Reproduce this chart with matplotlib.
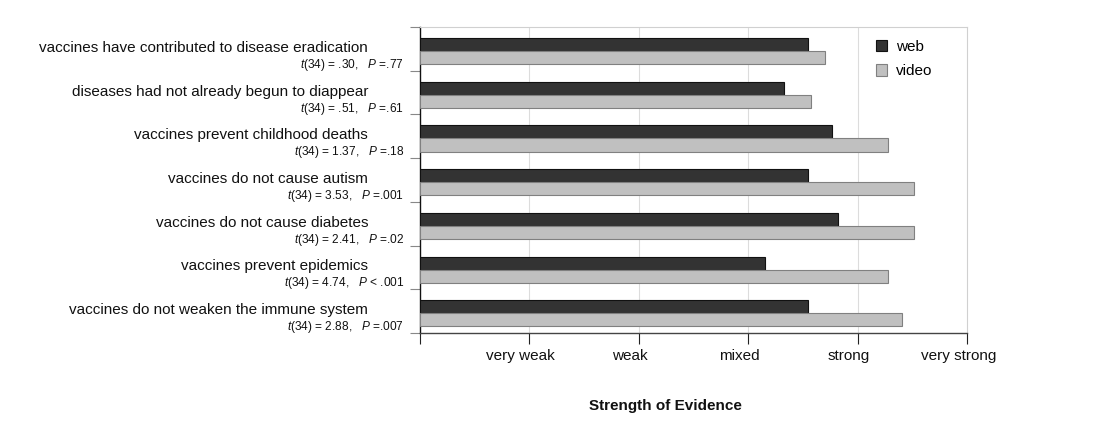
import matplotlib
matplotlib.use("Agg")
import matplotlib.pyplot as plt
from matplotlib.patches import Patch
import numpy as np

categories = [
    "vaccines have contributed to disease eradication",
    "diseases had not already begun to diappear",
    "vaccines prevent childhood deaths",
    "vaccines do not cause autism",
    "vaccines do not cause diabetes",
    "vaccines prevent epidemics",
    "vaccines do not weaken the immune system",
]
t_values = [".30", ".51", "1.37", "3.53", "2.41", "4.74", "2.88"]
p_values = ["=.77", "=.61", "=.18", "=.001", "=.02", "< .001", "=.007"]
web = [3.55, 3.33, 3.77, 3.55, 3.82, 3.15, 3.55]
video = [3.70, 3.57, 4.28, 4.52, 4.52, 4.28, 4.41]
tick_labels = ["very weak", "weak", "mixed", "strong", "very strong"]

plt.rcParams['font.family'] = ['Liberation Sans', 'DejaVu Sans']
plt.rcParams['mathtext.fontset'] = 'custom'
plt.rcParams['mathtext.rm'] = 'Liberation Sans'
plt.rcParams['mathtext.it'] = 'Liberation Sans:italic'

W, H = 1098, 444
fig = plt.figure(figsize=(W / 100, H / 100), dpi=100)
ax = fig.add_axes([420 / W, 1 - 333 / H, (967 - 420) / W, (333 - 27) / H])

n = len(categories)
y = np.arange(n)
ax.barh(y - 0.10, web, height=0.30, color='#333333', edgecolor='#111111', linewidth=0.8, zorder=3)
ax.barh(y + 0.20, video, height=0.30, color='#c0c0c0', edgecolor='#808080', linewidth=0.8, zorder=3)

ax.set_xlim(0, 5)
ax.set_ylim(n - 0.5, -0.5)

for xv in [1, 2, 3, 4]:
    ax.axvline(xv, color='#dcdcdc', linewidth=0.8, zorder=1)

ax.set_xticks(np.arange(0, 6))
ax.set_xticklabels([])
ax.tick_params(axis='x', direction='out', length=8, width=0.8, color='#222222')
for i, lab in enumerate(tick_labels):
    ax.text(i + 1 - 0.08, -0.052, lab, transform=ax.get_xaxis_transform(),
            ha='center', va='top', fontsize=11, color='#111111')

ax.set_yticks(np.arange(-0.5, n, 1.0))
ax.set_yticklabels([])
ax.tick_params(axis='y', direction='out', length=7, width=0.8, color='#888888')

for side in ['top', 'right']:
    ax.spines[side].set_color('#d0d0d0')
    ax.spines[side].set_linewidth(0.8)
ax.spines['left'].set_color('#111111')
ax.spines['bottom'].set_color('#444444')
ax.spines['left'].set_linewidth(1.0)
ax.spines['bottom'].set_linewidth(1.0)

for i, cat in enumerate(categories):
    yc = 1 - (27 + (i + 0.5) * (333 - 27) / n) / H
    fig.text(368 / W, yc + 1 / H, cat, ha='right', va='center', fontsize=11, color='#111111')
    fig.text(404 / W, yc - 16 / H,
             r"$\it{t}$(34) = " + t_values[i] + r",   $\it{P}$ " + p_values[i],
             ha='right', va='center', fontsize=8.6, color='#111111')

fig.text(665 / W, 1 - 406 / H, "Strength of Evidence", ha='center', va='center',
         fontsize=11, fontweight='bold', color='#111111')

handles = [Patch(facecolor='#333333', edgecolor='#111111', linewidth=0.8, label='web'),
           Patch(facecolor='#c0c0c0', edgecolor='#808080', linewidth=0.8, label='video')]
fig.legend(handles=handles, loc='upper left', bbox_to_anchor=(868 / W, 1 - 32 / H),
           frameon=False, fontsize=11, handlelength=0.75, handleheight=0.75,
           handletextpad=0.6, labelspacing=0.7, borderpad=0)

fig.savefig("out.png", dpi=100)
